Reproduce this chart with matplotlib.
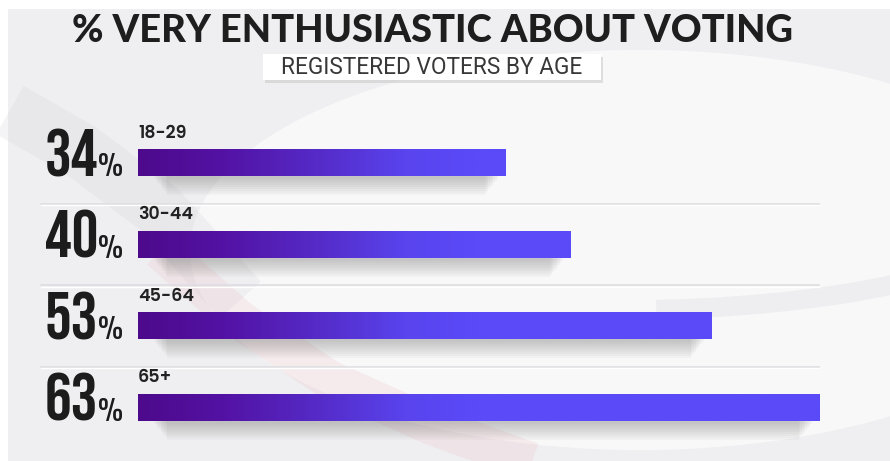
import numpy as np
import matplotlib.pyplot as plt
from matplotlib import font_manager
from matplotlib.font_manager import FontProperties
from matplotlib.textpath import TextPath
from matplotlib.colors import LinearSegmentedColormap
from matplotlib.patches import Rectangle, Ellipse, Arc
import matplotlib.transforms as mtransforms

titulo = "% VERY ENTHUSIASTIC ABOUT VOTING"
subtitulo = "REGISTERED VOTERS BY AGE"
faixas = ["18-29", "30-44", "45-64", "65+"]
valores = [34, 40, 53, 63]


def primeira(candidatas, peso_min=0, peso_max=1000):
    # primeira familia instalada que tenha um arquivo no intervalo de peso
    for c in candidatas:
        for f in font_manager.fontManager.ttflist:
            if f.name == c and peso_min <= int(f.weight) <= peso_max:
                return c
    return "DejaVu Sans"


def tamanho(texto, prop, alvo_px, largura=True):
    # tamanho de fonte (pt) para que o desenho do texto tenha alvo_px pixels
    ext = TextPath((0, 0), texto, size=100, prop=prop).get_extents()
    medida = ext.width if largura else ext.height
    return 100 * alvo_px * 0.72 / medida


f_titulo = FontProperties(family=primeira(["Lato"]), weight="black")
f_sub = FontProperties(family=primeira(["Roboto"]), weight="normal")
f_num = FontProperties(family=primeira(["Bebas Neue", "Oswald", "Barlow Condensed"]),
                       weight="bold")
f_pct = FontProperties(family=primeira(["Oswald", "Barlow Condensed", "Roboto Condensed"]),
                       weight="normal")
f_faixa = FontProperties(family=primeira(["Montserrat", "Poppins", "Inter"], 550, 700),
                         weight="semibold")

fig = plt.figure(figsize=(8.9, 4.61), dpi=100)
fig.patch.set_facecolor("white")

# fundo decorativo em pixels
bg = fig.add_axes([0, 0, 1, 1])
bg.set_xlim(0, 890)
bg.set_ylim(461, 0)
bg.axis("off")
bg.add_patch(Rectangle((8, 9), 882, 452, facecolor="#efeff1", lw=0))
bg.add_patch(Ellipse((640, 250), 900, 400, color="#fafafb", alpha=0.9, lw=0))
bg.plot([10, 80, 160, 240], [110, 150, 210, 300], color="#d6d6dc", lw=40, alpha=0.25,
        solid_capstyle="butt")
bg.plot([160, 240, 330, 430, 540], [250, 320, 380, 425, 465], color="#e9a9b0", lw=28,
        alpha=0.16, solid_capstyle="butt")
bg.add_patch(Arc((620, 210), 820, 200, theta1=0, theta2=70, color="#e2e2e6", lw=14, alpha=0.45))

# titulo e subtitulo
fig.text(433 / 890, 1 - 31 / 461, titulo, ha="center", va="center",
         fontproperties=f_titulo, fontsize=tamanho(titulo, f_titulo, 720), color="#1e1e1e")
bg.add_patch(Rectangle((265, 57), 338, 26, facecolor="#c4c4c4", lw=0, alpha=0.5))
bg.add_patch(Rectangle((263, 54), 338, 26, facecolor="white", lw=0))
fig.text(432 / 890, 1 - 67 / 461, subtitulo, ha="center", va="center",
         fontproperties=f_sub, fontsize=tamanho(subtitulo, f_sub, 298), color="#383838")

# eixo das barras: 0% em x=138px, ~10.82 px por ponto percentual
ax = fig.add_axes([138 / 890, (461 - 448.25) / 461, 703 / 890, 326 / 461])
ax.set_xlim(0, 65)
ax.set_ylim(3.5, -0.5)
ax.axis("off")

cmap = LinearSegmentedColormap.from_list(
    "roxo", [(0, "#4d0a8c"), (0.12, "#5312a4"), (0.25, "#552ac6"),
             (0.38, "#5944ee"), (0.48, "#5a4af8"), (1, "#5a4af8")])
altura = 0.32
px_y = 1 / 81.5

tam_num = tamanho("63", f_num, 48, largura=False)
tam_pct = tamanho("%", f_pct, 23, largura=False)
tam_faixa = tamanho("18-29", f_faixa, 47)

for i, (faixa, v) in enumerate(zip(faixas, valores)):
    topo = i - altura / 2
    base = i + altura / 2
    # sombra suave
    for k in range(9):
        ax.add_patch(Rectangle((1.5 + k * 0.15, i), v - 2.2 - k * 0.3,
                               altura / 2 + (3 + k * 2.0) * px_y,
                               facecolor="#6a6a6a", alpha=0.045, lw=0, zorder=1))
    xs = np.linspace(0, v, 300).reshape(1, -1)
    ax.imshow(xs, cmap=cmap, vmin=0, vmax=65, aspect="auto", extent=(0, v, base, topo),
              zorder=3, interpolation="bilinear")
    # numero grande e sinal de porcentagem
    t_num = mtransforms.offset_copy(ax.transData, fig=fig, x=-40, y=0, units="dots")
    ax.text(0, base, str(v), transform=t_num, ha="right", va="baseline",
            fontproperties=f_num, fontsize=tam_num, color="#1c1c1c")
    t_pct = mtransforms.offset_copy(ax.transData, fig=fig, x=-15, y=0, units="dots")
    ax.text(0, base, "%", transform=t_pct, ha="right", va="baseline",
            fontproperties=f_pct, fontsize=tam_pct, color="#1c1c1c")
    # faixa etaria
    ax.text(0, topo - 7 * px_y, faixa, ha="left", va="bottom",
            fontproperties=f_faixa, fontsize=tam_faixa, color="#222222")

for i in range(len(faixas) - 1):
    ax.plot([-9.0, 63], [i + 0.5, i + 0.5], color="#dedee2", lw=1.2, clip_on=False, zorder=2)
    ax.plot([-9.0, 63], [i + 0.5 + 1.5 * px_y] * 2, color="white", lw=1, clip_on=False, zorder=2)

fig.savefig("out.png", dpi=100, facecolor=fig.get_facecolor())
